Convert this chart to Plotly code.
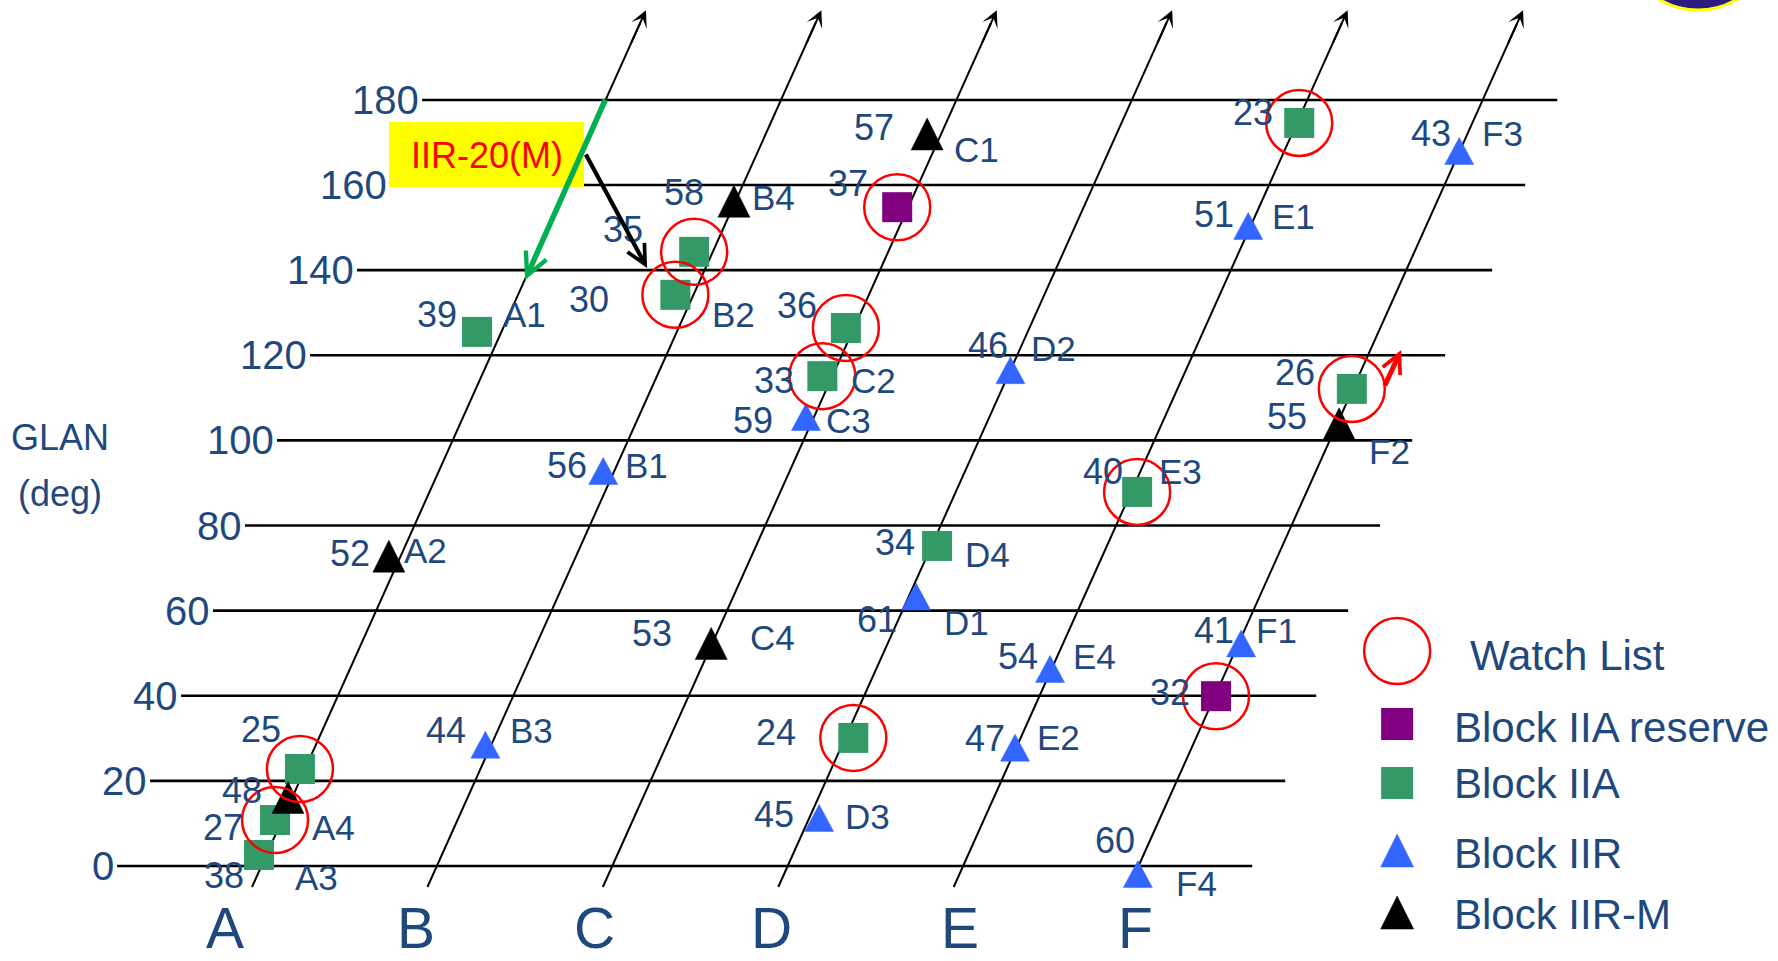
import plotly.graph_objects as go

# ---------------- data ----------------
planes = ["A", "B", "C", "D", "E", "F"]
glan_ticks = [0, 20, 40, 60, 80, 100, 120, 140, 160, 180]

prn = [39, 52, 25, 48, 27, 38,
       56, 44, 30, 35, 58,
       57, 37, 36, 33, 59, 53,
       46, 34, 61, 24, 45,
       51, 40, 54, 47, 23,
       43, 26, 55, 41, 32, 60]
block = ["IIA", "IIR-M", "IIA", "IIR-M", "IIA", "IIA",
         "IIR", "IIR", "IIA", "IIA", "IIR-M",
         "IIR-M", "IIA reserve", "IIA", "IIA", "IIR", "IIR-M",
         "IIR", "IIA", "IIR", "IIA", "IIR",
         "IIR", "IIA", "IIR", "IIR", "IIA",
         "IIR", "IIA", "IIR-M", "IIR", "IIA reserve", "IIR"]
plane_idx = [0] * 6 + [1] * 5 + [2] * 6 + [3] * 5 + [4] * 5 + [5] * 6
glan = [125.5, 72.8, 22.8, 16.1, 10.8, 2.6,
        92.8, 28.5, 134.2, 144.3, 156.2,
        172.0, 154.8, 126.4, 115.1, 105.5, 52.3,
        116.5, 75.2, 63.3, 30.1, 11.3,
        150.4, 87.9, 46.3, 27.8, 174.6,
        168.0, 112.1, 103.9, 52.3, 39.9, -1.9]
# horizontal offset from the plane line (plane units)
phase_offset = [-0.139, -0.067, -0.029, -0.024, -0.040, -0.042,
                -0.063, -0.034, -0.103, -0.106, -0.009,
                -0.080, -0.063, -0.046, -0.057, -0.046, -0.006,
                0.000, 0.032, 0.042, 0.046, 0.056,
                -0.014, 0.034, -0.009, -0.007, 0.013,
                -0.003, -0.006, 0.011, 0.015, 0.007, 0.017]
watch_list = [23, 25, 27, 24, 30, 35, 37, 36, 33, 26, 40, 32]
slot_names = ["A1", "A2", "A3", "A4", "B1", "B2", "B3", "B4",
              "C1", "C2", "C3", "C4", "D1", "D2", "D3", "D4",
              "E1", "E2", "E3", "E4", "F1", "F2", "F3", "F4"]
slot_prn = [39, 52, 38, 27, 56, 30, 44, 58,
            57, 33, 59, 53, 61, 46, 45, 34,
            51, 47, 40, 54, 41, 55, 43, 60]

# ---------------- layout / style ----------------
TXT = "#1F497D"
FONT = "Liberation Sans, Arial, sans-serif"
GREEN = "#339966"
PURPLE = "#800080"
BLUE = "#3366FF"
SKEW = 0.0109            # plane-line slant (plane units per degree)
PX_X = 175.4             # pixels per plane unit
PX_Y = 4.256             # pixels per degree
X_RANGE = [-1.4903, 8.6454]
Y_RANGE = [-22.32, 203.48]
G_BOT, G_TOP = -4.93, 201.1

# label offsets (pixels, screen: +x right, +y down)
prn_off = {39: (-40, -17), 52: (-39, -3), 25: (-39, -39), 48: (-46, -7), 27: (-52, 7), 38: (-35, 21),
           56: (-36, -6), 44: (-39, -14), 30: (-86, 5), 35: (-71, -22), 58: (-50, -9),
           57: (-53, -6), 37: (-49, -24), 36: (-49, -23), 33: (-48, 4), 59: (-53, 3), 53: (-59, -10),
           46: (-22, -25), 34: (-42, -3), 61: (-39, 23), 24: (-77, -5), 45: (-45, -3),
           51: (-34, -11), 40: (-34, -20), 54: (-32, -12), 47: (-30, -9), 23: (-46, -10),
           43: (-28, -18), 26: (-57, -16), 55: (-52, -7), 41: (-27, -13), 32: (-46, -4), 60: (-23, -34)}
slot_off = [(47, -17), (37, -6), (57, 23), (58, 7), (43, -6), (58, 20), (46, -14), (40, -4),
            (49, 16), (51, 4), (43, 3), (61, -6), (50, 26), (43, -22), (48, -1), (50, 9),
            (45, -9), (43, -10), (43, -20), (44, -12), (35, -13), (50, 28), (43, -18), (59, 9)]
hline_left = [-0.823, -0.635, -0.458, -0.276, -0.094, 0.089, 0.277, 0.545, 0.733, 0.916]
HLINE_LEN = 6.471
plane_label_x = [-0.21, 0.88, 1.90, 2.91, 3.98, 4.98]

sat_x = [p + o + SKEW * g for p, o, g in zip(plane_idx, phase_offset, glan)]
pos = {n: (x, g) for n, x, g in zip(prn, sat_x, glan)}

fig = go.Figure()

# horizontal GLAN lines
hx, hy = [], []
for g, x0 in zip(glan_ticks, hline_left):
    hx += [x0, x0 + HLINE_LEN, None]
    hy += [g, g, None]
fig.add_trace(go.Scatter(x=hx, y=hy, mode="lines", line=dict(color="black", width=2.6),
                         hoverinfo="skip"))

# slanted plane lines
sx, sy = [], []
for k in range(len(planes)):
    sx += [k + SKEW * G_BOT, k + SKEW * (G_TOP - 3), None]
    sy += [G_BOT, G_TOP - 3, None]
fig.add_trace(go.Scatter(x=sx, y=sy, mode="lines", line=dict(color="black", width=2),
                         hoverinfo="skip"))


def add_squares(kind, color):
    xs = [x for x, b in zip(sat_x, block) if b == kind]
    ys = [g for g, b in zip(glan, block) if b == kind]
    t = [n for n, b in zip(prn, block) if b == kind]
    fig.add_trace(go.Scatter(x=xs, y=ys, mode="markers", text=t, name="Block " + kind,
                             marker=dict(symbol="square", size=30, color=color, line=dict(width=0))))


def tri_path(xc, yc, w_px, h_px):
    hw = w_px / 2 / PX_X
    hh = h_px / 2 / PX_Y
    return [xc - hw, xc + hw, xc, xc - hw, None], [yc - hh, yc - hh, yc + hh, yc - hh, None]


def add_triangles(kind, color, w_px, h_px):
    px_, py_ = [], []
    for x, g, b in zip(sat_x, glan, block):
        if b == kind:
            a, c = tri_path(x, g, w_px, h_px)
            px_ += a
            py_ += c
    fig.add_trace(go.Scatter(x=px_, y=py_, mode="lines", fill="toself", fillcolor=color,
                             line=dict(color=color, width=0.5), name="Block " + kind,
                             hoverinfo="name"))


add_squares("IIA", GREEN)
add_squares("IIA reserve", PURPLE)
add_triangles("IIR", BLUE, 29, 27)
add_triangles("IIR-M", "black", 32, 32)

# watch-list circles
fig.add_trace(go.Scatter(x=[pos[n][0] for n in watch_list], y=[pos[n][1] for n in watch_list],
                         mode="markers", name="Watch List", text=watch_list,
                         marker=dict(symbol="circle-open", size=66, color="#FF0000",
                                     line=dict(width=2.5, color="#FF0000"))))

# ---- manual legend ----
LX = 6.4743
fig.add_trace(go.Scatter(x=[LX], y=[50.52], mode="markers", hoverinfo="skip",
                         marker=dict(symbol="circle-open", size=66, color="#FF0000",
                                     line=dict(width=2.5, color="#FF0000"))))
fig.add_trace(go.Scatter(x=[LX, LX], y=[33.36, 19.50], mode="markers", hoverinfo="skip",
                         marker=dict(symbol="square", size=32, color=[PURPLE, GREEN], line=dict(width=0))))
for yc, col in [(3.64, BLUE), (-10.93, "black")]:
    a, c = tri_path(LX, yc, 33, 33)
    fig.add_trace(go.Scatter(x=a, y=c, mode="lines", fill="toself", fillcolor=col,
                             line=dict(color=col, width=0.5), hoverinfo="skip"))

ann = []
legend_txt = [("Watch List", 6.878, 49.58), ("Block IIA reserve", 6.787, 32.66),
              ("Block IIA", 6.787, 19.50), ("Block IIR", 6.787, 3.05), ("Block IIR-M", 6.787, -11.51)]
for t, x, y in legend_txt:
    ann.append(dict(x=x, y=y, text=t, showarrow=False, xanchor="left", yanchor="middle",
                    font=dict(size=42, color=TXT, family=FONT)))

# satellite labels
for n in prn:
    dx, dy = prn_off[n]
    ann.append(dict(x=pos[n][0], y=pos[n][1], text=str(n), showarrow=False, xshift=dx, yshift=-dy,
                    xanchor="center", yanchor="middle", font=dict(size=36, color=TXT, family=FONT)))
for s, n, (dx, dy) in zip(slot_names, slot_prn, slot_off):
    ann.append(dict(x=pos[n][0], y=pos[n][1], text=s, showarrow=False, xshift=dx, yshift=-dy,
                    xanchor="center", yanchor="middle", font=dict(size=35, color=TXT, family=FONT)))

# GLAN tick labels
for g, x0 in zip(glan_ticks, hline_left):
    ann.append(dict(x=x0, y=g, text=str(g), showarrow=False, xanchor="right", yanchor="middle",
                    xshift=-1, font=dict(size=40, color=TXT, family=FONT)))

# plane labels
for name, x in zip(planes, plane_label_x):
    ann.append(dict(x=x, y=-14.6, text=name, showarrow=False, xanchor="center", yanchor="middle",
                    borderpad=0, font=dict(size=57, color=TXT, family=FONT)))

# axis title
ann.append(dict(x=-1.148, y=100.6, text="GLAN", showarrow=False, font=dict(size=36, color=TXT, family=FONT)))
ann.append(dict(x=-1.148, y=87.6, text="(deg)", showarrow=False, font=dict(size=36, color=TXT, family=FONT)))

# arrowheads at top of plane lines
for k in range(len(planes)):
    ann.append(dict(x=k + SKEW * G_TOP, y=G_TOP, ax=k + SKEW * (G_TOP - 8), ay=G_TOP - 8,
                    axref="x", ayref="y", xref="x", yref="y", text="", showarrow=True,
                    arrowhead=3, arrowsize=1.4, arrowwidth=2, arrowcolor="black", standoff=0))

# IIR-20(M) callout
ann.append(dict(x=1.2862, y=167.06, text="IIR-20(M)", showarrow=False,
                font=dict(size=36, color="#FF0000", family=FONT)))
ann.append(dict(x=1.5029, y=137.69, ax=1.9646, ay=180.45, axref="x", ayref="y", text="",
                showarrow=True, arrowhead=5, arrowsize=0.8, arrowwidth=5.5, arrowcolor="#00B050", standoff=0))
ann.append(dict(x=2.1984, y=140.51, ax=1.8449, ay=167.53, axref="x", ayref="y", text="",
                showarrow=True, arrowhead=5, arrowsize=0.9, arrowwidth=4.2, arrowcolor="black", standoff=0))
ann.append(dict(x=6.4971, y=121.24, ax=6.4002, ay=112.55, axref="x", ayref="y", text="",
                showarrow=True, arrowhead=5, arrowsize=0.75, arrowwidth=5, arrowcolor="#FF0000", standoff=0))

shapes = [
    dict(type="rect", xref="x", yref="y", x0=0.7275, x1=1.8392, y0=159.54, y1=174.81,
         fillcolor="#FFFF00", line=dict(width=0), layer="above"),
    dict(type="circle", xref="paper", yref="paper", x0=0.915, x1=0.995, y0=0.9896, y1=1.13,
         fillcolor="#2B1B7E", line=dict(color="#FFFF00", width=3), layer="above"),
]

fig.update_layout(
    width=1778, height=961,
    margin=dict(l=0, r=0, t=0, b=0),
    paper_bgcolor="white", plot_bgcolor="white",
    showlegend=False,
    xaxis=dict(range=X_RANGE, visible=False, fixedrange=True),
    yaxis=dict(range=Y_RANGE, visible=False, fixedrange=True),
    annotations=ann, shapes=shapes,
    font=dict(family=FONT, color=TXT),
)

fig.write_html("out.html", config={"displayModeBar": False},
               post_script="document.body.style.margin='0';")
